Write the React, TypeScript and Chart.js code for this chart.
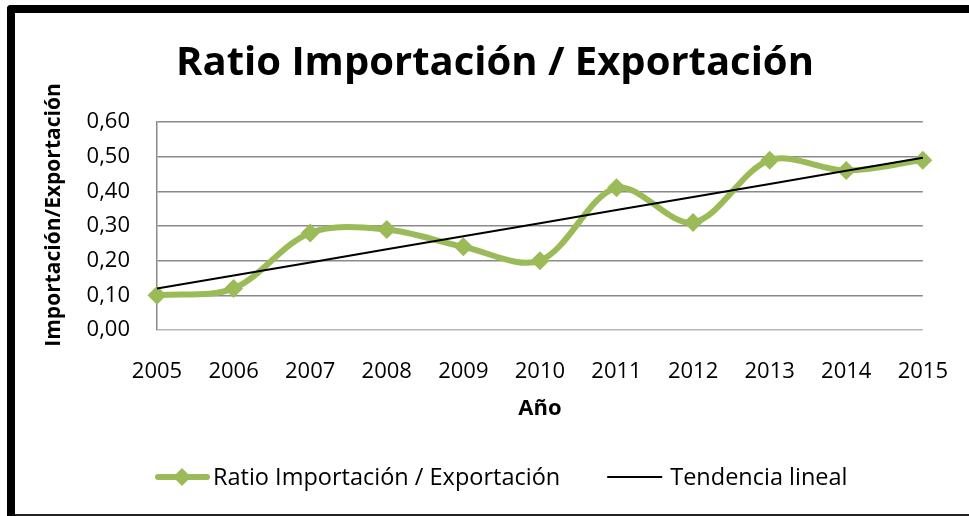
import React, { useEffect, useRef } from "react";
import { Chart, registerables } from "chart.js";

Chart.register(...registerables);

const years = ["2005", "2006", "2007", "2008", "2009", "2010", "2011", "2012", "2013", "2014", "2015"];
const ratio = [0.10, 0.12, 0.28, 0.29, 0.24, 0.20, 0.41, 0.31, 0.49, 0.46, 0.49];
const yTicks = [0, 0.1, 0.2, 0.3, 0.4, 0.5, 0.6];

const TITLE = "Ratio Importación / Exportación";
const Y_TITLE = "Importación/Exportación";
const X_TITLE = "Año";
const SERIES_LABEL = "Ratio Importación / Exportación";
const TREND_LABEL = "Tendencia lineal";

const GREEN = "#9BBB59";
const FONT = '"Open Sans", sans-serif';

// least-squares linear trend, as Excel's "Tendencia lineal"
function linearTrend(values: number[]): number[] {
  const n = values.length;
  const mx = (n - 1) / 2;
  const my = values.reduce((a, b) => a + b, 0) / n;
  let sxy = 0;
  let sxx = 0;
  values.forEach((v, i) => {
    sxy += (i - mx) * (v - my);
    sxx += (i - mx) * (i - mx);
  });
  const slope = sxy / sxx;
  return values.map((_, i) => my + slope * (i - mx));
}

const trend = linearTrend(ratio);

const customText = {
  id: "customText",
  afterDraw(chart: any) {
    const ctx = chart.ctx as CanvasRenderingContext2D;
    ctx.save();
    ctx.fillStyle = "#000";
    // main title
    ctx.font = `bold 40px ${FONT}`;
    ctx.textAlign = "center";
    ctx.textBaseline = "alphabetic";
    ctx.fillText(TITLE, 495, 75);
    // y title
    ctx.save();
    ctx.translate(60, 215);
    ctx.rotate(-Math.PI / 2);
    ctx.font = `bold 21px ${FONT}`;
    ctx.textAlign = "center";
    ctx.fillText(Y_TITLE, 0, 0);
    ctx.restore();

    // legend
    const ly = 477;
    ctx.font = `23.5px ${FONT}`;
    ctx.textAlign = "left";
    ctx.textBaseline = "middle";
    let x = 155;
    // series 1
    ctx.strokeStyle = GREEN;
    ctx.lineWidth = 6;
    ctx.lineCap = "round";
    ctx.beginPath();
    ctx.moveTo(x + 3, ly);
    ctx.lineTo(x + 52, ly);
    ctx.stroke();
    ctx.fillStyle = GREEN;
    const cx = x + 27;
    ctx.beginPath();
    ctx.moveTo(cx, ly - 9);
    ctx.lineTo(cx + 9, ly);
    ctx.lineTo(cx, ly + 9);
    ctx.lineTo(cx - 9, ly);
    ctx.closePath();
    ctx.fill();
    x += 58;
    ctx.fillStyle = "#000";
    ctx.fillText(SERIES_LABEL, x, ly + 1);
    x += ctx.measureText(SERIES_LABEL).width + 47;
    // trend
    ctx.strokeStyle = "#000";
    ctx.lineWidth = 2;
    ctx.lineCap = "butt";
    ctx.beginPath();
    ctx.moveTo(x, ly);
    ctx.lineTo(x + 55, ly);
    ctx.stroke();
    x += 63;
    ctx.fillText(TREND_LABEL, x, ly + 1);
    ctx.restore();
  },
};

export default function App() {
  const ref = useRef<HTMLCanvasElement | null>(null);

  useEffect(() => {
    if (!ref.current) return;
    const chart = new Chart(ref.current, {
      type: "line",
      data: {
        labels: years,
        datasets: [
          {
            label: SERIES_LABEL,
            data: ratio,
            borderColor: GREEN,
            backgroundColor: GREEN,
            borderWidth: 6,
            tension: 0.33,
            pointStyle: "rectRot",
            pointRadius: 9.5,
            pointHoverRadius: 9.5,
            pointBackgroundColor: GREEN,
            pointBorderColor: GREEN,
            pointBorderWidth: 0,
            clip: false as any,
            order: 2,
          },
          {
            label: TREND_LABEL,
            data: trend,
            borderColor: "#000",
            borderWidth: 2,
            pointRadius: 0,
            tension: 0,
            clip: false as any,
            order: 1,
          },
        ],
      },
      options: {
        responsive: false,
        animation: false,
        devicePixelRatio: 1,
        layout: { padding: { top: 122, left: 0, right: 44, bottom: 94 } },
        plugins: {
          legend: { display: false },
          title: { display: false },
          tooltip: { enabled: false },
        },
        scales: {
          x: {
            type: "category",
            offset: false,
            grid: { display: false },
            border: { display: false },
            ticks: {
              color: "#000",
              font: { family: FONT, size: 22 },
              padding: 21,
              maxRotation: 0,
              autoSkip: false,
            },
            title: {
              display: true,
              text: X_TITLE,
              color: "#000",
              font: { family: FONT, size: 22, weight: "bold" },
              padding: 0,
            },
            afterFit(scale: any) {
              scale.height = 92;
            },
          },
          y: {
            min: 0,
            max: 0.6,
            afterBuildTicks(scale: any) {
              scale.ticks = yTicks.map((v) => ({ value: v }));
            },
            grid: {
              drawTicks: false,
              lineWidth: 1.5,
              color: (c: any) => (c.tick && c.tick.value === 0 ? "#b8b8b8" : "#8a8a8a"),
            },
            border: { display: true, color: "#8a8a8a", width: 1.5 },
            ticks: {
              color: "#000",
              font: { family: FONT, size: 22 },
              padding: 27,
              callback: (v: any) => Number(v).toFixed(2).replace(".", ","),
            },
            afterFit(scale: any) {
              scale.width = 157;
            },
          },
        },
      },
      plugins: [customText],
    });
    return () => chart.destroy();
  }, []);

  return (
    <div
      style={{
        position: "fixed",
        left: 0,
        top: 0,
        width: 969,
        height: 516,
        background: "#fff",
        overflow: "hidden",
      }}
    >
      <canvas ref={ref} width={969} height={516} style={{ display: "block", width: 969, height: 516 }} />
      <div style={{ position: "absolute", left: 7, top: 5, width: 962, height: 8, background: "#000", borderTopLeftRadius: 4 }} />
      <div style={{ position: "absolute", left: 7, top: 5, width: 8, height: 511, background: "#000", borderTopLeftRadius: 4 }} />
      <div style={{ position: "absolute", left: 15, top: 514, width: 954, height: 2, background: "#222" }} />
    </div>
  );
}
